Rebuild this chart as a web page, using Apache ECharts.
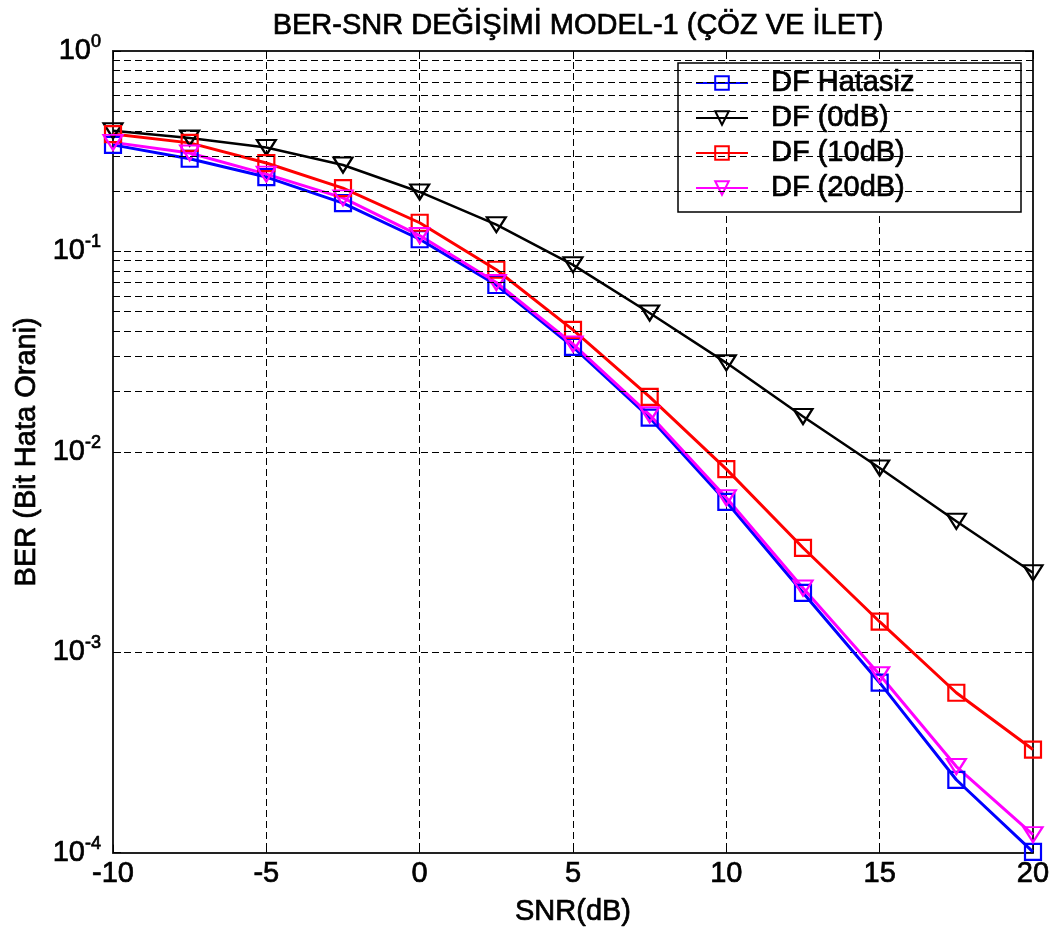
<!DOCTYPE html>
<html>
<head>
<meta charset="utf-8">
<script src="https://cdn.jsdelivr.net/npm/echarts@6/dist/echarts.min.js"></script>
<style>
html,body{margin:0;padding:0;background:#fff;}
#main{width:1056px;height:932px;}
</style>
</head>
<body>
<div id="main"></div>
<script>
const snr = [-10, -7.5, -5, -2.5, 0, 2.5, 5, 7.5, 10, 12.5, 15, 17.5, 20];
const dfHatasiz = [0.34, 0.29, 0.235, 0.174, 0.115, 0.068, 0.0334, 0.0148, 0.00563, 0.00198, 0.000705, 0.000231, 0.000101];
const df0dB = [0.40, 0.368, 0.33, 0.27, 0.198, 0.136, 0.0857, 0.0493, 0.0278, 0.0150, 0.0083, 0.0045, 0.00249];
const df10dB = [0.385, 0.348, 0.276, 0.207, 0.139, 0.081, 0.0406, 0.0188, 0.0082, 0.00332, 0.00142, 0.000628, 0.000327];
const df20dB = [0.35, 0.31, 0.243, 0.185, 0.12, 0.07, 0.0345, 0.0153, 0.0059, 0.00209, 0.000772, 0.000269, 0.000123];
const seriesNames = ['DF Hatasiz', 'DF (0dB)', 'DF (10dB)', 'DF (20dB)'];
const xTicks = [-10, -5, 0, 5, 10, 15, 20];
const decades = [-4, -3, -2, -1, 0];
const minorMultipliers = [2, 3, 4, 5, 6, 7, 8, 9];

const FONT = 'Arial, "Liberation Sans", sans-serif';
const FS = 29;
const TB = { textBorderColor: '#000', textBorderWidth: 0.7 };
const minorLines = [];
decades.slice(0, -1).forEach(function (e) {
  minorMultipliers.forEach(function (m) { minorLines.push({ yAxis: m * Math.pow(10, e) }); });
});

function pair(arr) { return snr.map(function (x, i) { return [x, arr[i]]; }); }
function txt(size, extra) {
  return Object.assign({ fontFamily: FONT, fontSize: size, fontWeight: 'normal', color: '#000' }, TB, extra || {});
}

function mkSeries(name, data, color, symbol, rotate, size, lw) {
  return {
    name: name, type: 'line', data: pair(data),
    symbol: symbol, symbolRotate: rotate, symbolSize: size, showAllSymbol: true,
    itemStyle: { color: 'rgba(255,255,255,0)', borderColor: color, borderWidth: 2.2 },
    lineStyle: { color: color, width: lw },
    emphasis: { disabled: true }, z: 3
  };
}

const chart = echarts.init(document.getElementById('main'), null, { renderer: 'canvas' });
const dash = [7, 4];
chart.setOption({
  animation: false,
  backgroundColor: '#fff',
  title: {
    text: 'BER-SNR DEĞİŞİMİ MODEL-1 (ÇÖZ VE İLET)',
    left: 573, textAlign: 'center', top: 6,
    textStyle: txt(29)
  },
  grid: { left: 113, right: 23, top: 51, bottom: 79, show: false },
  legend: {
    orient: 'vertical', left: 678, top: 63,
    backgroundColor: '#fff', borderColor: '#000', borderWidth: 1.5,
    padding: [5, 10, 9, 17], itemGap: 5, itemWidth: 52, itemHeight: 17,
    data: seriesNames,
    textStyle: txt(FS, { lineHeight: 30, width: 240, padding: [0, 0, 0, 18] })
  },
  xAxis: [{
    type: 'value', min: -10, max: 20, interval: 5,
    name: 'SNR(dB)', nameLocation: 'middle', nameGap: 45,
    nameTextStyle: txt(FS),
    axisLine: { show: true, onZero: false, lineStyle: { color: '#222', width: 2 } },
    axisTick: { show: true, inside: true, length: 8, lineStyle: { color: '#000' } },
    axisLabel: txt(FS, { margin: 7 }),
    splitLine: { show: true, lineStyle: { color: '#000', type: dash, width: 1 } }
  }, {
    type: 'value', min: -10, max: 20, interval: 5, position: 'top',
    axisLine: { show: true, onZero: false, lineStyle: { color: '#222', width: 2 } },
    axisTick: { show: true, inside: true, length: 8, lineStyle: { color: '#000' } },
    axisLabel: { show: false }, splitLine: { show: false }
  }],
  yAxis: [{
    type: 'log', logBase: 10, min: 0.0001, max: 1, interval: 1,
    name: 'BER (Bit Hata Orani)', nameLocation: 'middle', nameGap: 68,
    nameTextStyle: txt(FS),
    axisLine: { show: true, onZero: false, lineStyle: { color: '#222', width: 2 } },
    axisTick: { show: true, inside: true, length: 8, lineStyle: { color: '#000' } },
    axisLabel: {
      margin: 12,
      formatter: function (v) { return '{b|10}{s|' + Math.round(Math.log10(v)) + '}'; },
      rich: {
        b: txt(FS),
        s: txt(18, { padding: [0, 0, 18, 0] })
      }
    },
    splitLine: { show: true, lineStyle: { color: '#000', type: dash, width: 1 } }
  }, {
    type: 'log', logBase: 10, min: 0.0001, max: 1, interval: 1, position: 'right',
    axisLine: { show: true, onZero: false, lineStyle: { color: '#222', width: 2 } },
    axisTick: { show: true, inside: true, length: 8, lineStyle: { color: '#000' } },
    axisLabel: { show: false }, splitLine: { show: false }
  }],
  series: [
    {
      name: 'minor-grid', type: 'line', data: [], silent: true, z: 1,
      markLine: {
        silent: true, symbol: ['none', 'none'], animation: false,
        label: { show: false },
        lineStyle: { color: '#000', type: dash, width: 1 },
        emphasis: { disabled: true },
        data: minorLines
      }
    },
    mkSeries(seriesNames[0], dfHatasiz, '#0000ff', 'rect', 0, 16, 3),
    mkSeries(seriesNames[1], df0dB, '#000000', 'triangle', 180, [19, 15], 2.5),
    mkSeries(seriesNames[2], df10dB, '#ff0000', 'rect', 0, 16, 3),
    mkSeries(seriesNames[3], df20dB, '#ff00ff', 'triangle', 180, [19, 15], 3)
  ]
});
</script>
</body>
</html>
